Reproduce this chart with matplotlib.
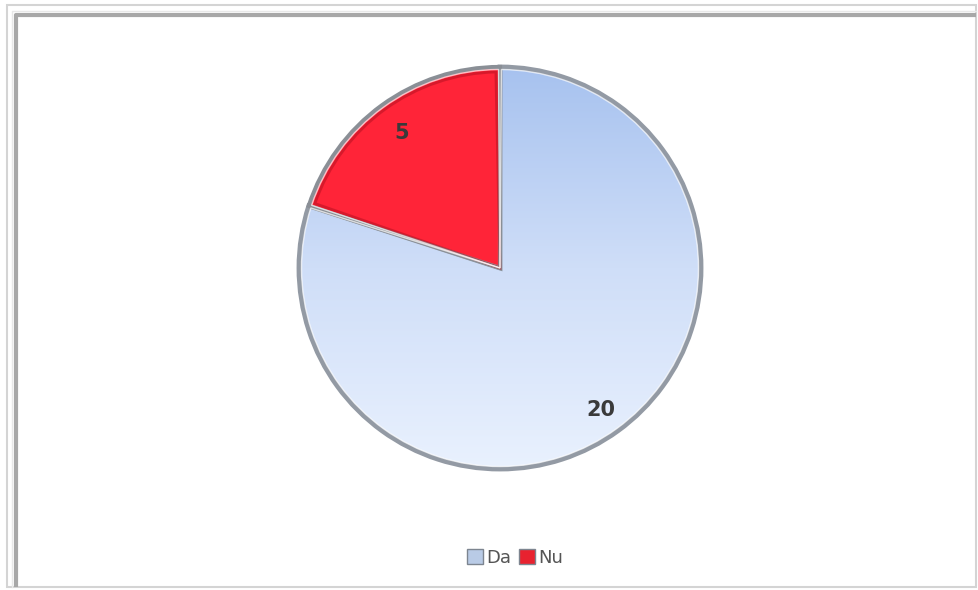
import numpy as np
import matplotlib
matplotlib.use('Agg')
import matplotlib.pyplot as plt
from matplotlib.patches import Rectangle, Patch, Wedge
from matplotlib.colors import LinearSegmentedColormap

labels = ['Da', 'Nu']
values = [20, 5]
colors = ['#c6d8f5', '#ff2236']

W, H = 979, 590
fig = plt.figure(figsize=(W / 100, H / 100), dpi=100)
ax = fig.add_axes([0, 0, 1, 1])
ax.axis('off')

# frame around the chart (y axis goes up, so top is H - y)
ax.add_patch(Rectangle((7, 3), 969, H - 8, fill=False, edgecolor='#d4d4d4', lw=1.5))
ax.plot([16, 16, 976], [3, H - 15, H - 15], color='#a8a8a8', lw=3, solid_capstyle='butt')
ax.plot([12, 12, 976], [3, H - 11, H - 11], color='#e8e8e8', lw=1)

cx, cy, r = 500, H - 268, 201

wedges, texts = ax.pie(values, colors=colors, startangle=90, counterclock=False,
                       center=(cx, cy), radius=r, explode=[0, 0.035],
                       wedgeprops=dict(edgecolor='#939aa4', linewidth=3.5))
ax.set_aspect('equal')
ax.set_xlim(0, W)
ax.set_ylim(0, H)

# blue gradient fill for the big slice (darker at the top)
cmap = LinearSegmentedColormap.from_list('blu', ['#a7c2ef', '#cfdef8', '#e9f1fe'])
grad = np.linspace(0, 1, 256).reshape(-1, 1)
im = ax.imshow(grad, cmap=cmap, extent=[cx - r, cx + r, cy - r, cy + r],
               aspect='auto', zorder=2.5, origin='upper')
im.set_clip_path(wedges[0])
wedges[0].set_facecolor('none')
wedges[0].set_zorder(3)

wedges[1].set_facecolor('#ff2438')
wedges[1].set_edgecolor('#8a8f96')
wedges[1].set_linewidth(3)
wedges[1].set_zorder(4)

# light inner rim
for w in wedges:
    ax.add_patch(Wedge(w.center, w.r - 2.5, w.theta1 + 0.4, w.theta2 - 0.4,
                       fill=False, edgecolor='white', lw=1.0, alpha=0.7, zorder=5))
ax.add_patch(Wedge(wedges[1].center, wedges[1].r - 5, wedges[1].theta1 + 1.2,
                   wedges[1].theta2 - 1.2, fill=False, edgecolor='#b01020',
                   lw=2, alpha=0.5, zorder=4.5))

# value labels
lab_pos = [(601, H - 410), (402, H - 133)]
for v, p in zip(values, lab_pos):
    ax.text(p[0], p[1], str(v), ha='center', va='center', fontsize=15,
            fontweight='bold', color='#3a3a3a', family='DejaVu Sans', zorder=6)

handles = [Patch(facecolor='#b9cbe6', edgecolor='#7d8590', label='Da'),
           Patch(facecolor='#e8222f', edgecolor='#7d8590', label='Nu')]
leg = ax.legend(handles=handles, loc='center', bbox_to_anchor=(515 / W, 1 - 558 / H),
                ncol=2, frameon=False, fontsize=13, handlelength=0.9,
                handleheight=0.9, handletextpad=0.2, columnspacing=0.4,
                labelcolor='#555555')

fig.savefig('out.png', dpi=100)
